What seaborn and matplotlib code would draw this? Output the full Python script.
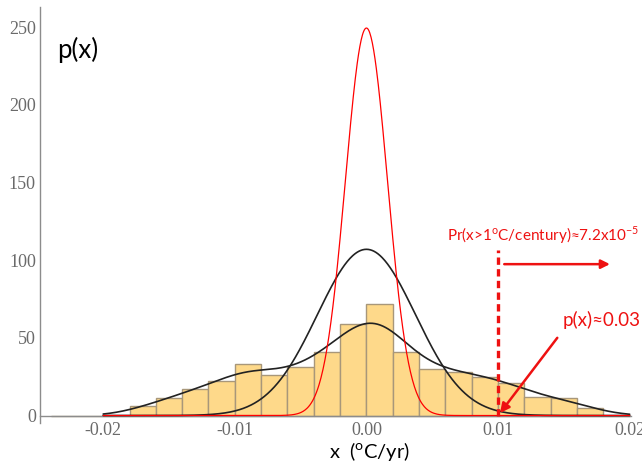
import numpy as np
import seaborn as sns
import matplotlib.pyplot as plt
from matplotlib.ticker import MultipleLocator, FormatStrFormatter

# Histogram of trends (oC/yr): bin centres and bar heights
bin_centers = [-0.023, -0.021, -0.019, -0.017, -0.015, -0.013, -0.011, -0.009,
               -0.007, -0.005, -0.003, -0.001, 0.001, 0.003, 0.005, 0.007,
               0.009, 0.011, 0.013, 0.015, 0.017, 0.019]
counts = [0, 0, 0, 6, 11, 17, 22, 33, 26, 31, 41, 59, 72, 41, 30, 28,
          25, 21, 12, 11, 5, 0]
bin_width = 0.002

# Fitted normal curves (mean 0), widths read from the peaks
red_sigma = 0.0016      # peak ~249
black_sigma = 0.00373   # peak ~107
curve_range = (-0.02, 0.02)

# smooth density of the histogram (black curve with shoulders)
kde_bw = 0.25

threshold = 0.01  # 1 oC / century

sns.set_style("white")
plt.rcParams['font.family'] = ['Liberation Serif', 'DejaVu Serif']
sans = ['Lato', 'DejaVu Sans']
red = '#EE1111'

fig = plt.figure(figsize=(6.42, 4.65), dpi=100)
ax = fig.add_axes([40 / 642, 41.7 / 465, 591 / 642, 416.5 / 465])

edges = [c - bin_width / 2 for c in bin_centers] + [bin_centers[-1] + bin_width / 2]
sns.histplot(x=bin_centers, weights=counts, bins=edges, stat='count',
             color='#FED98A', edgecolor='#A8977A', linewidth=1.0, alpha=1,
             ax=ax, zorder=1)

xs = np.linspace(curve_range[0], curve_range[1], 801)
def normal_pdf(x, s):
    return np.exp(-0.5 * (x / s) ** 2) / (s * np.sqrt(2 * np.pi))

sns.lineplot(x=xs, y=normal_pdf(xs, black_sigma), color='#222222', lw=1.2, ax=ax, zorder=3)
sns.kdeplot(x=bin_centers, weights=counts, bw_method=kde_bw, cut=10, clip=curve_range,
            gridsize=400, color='#222222', lw=1.2, ax=ax, zorder=3)
sns.lineplot(x=xs, y=normal_pdf(xs, red_sigma), color='#FF0000', lw=0.9, ax=ax, zorder=4)

# annotations
ax.vlines(threshold, 0, 106.5, colors=red, linestyles=(0, (2.2, 1.3)), lw=2.4, zorder=5)
ax.annotate('', xy=(0.0185, 97.4), xytext=(0.01047, 97.4),
            arrowprops=dict(arrowstyle='-|>', color=red, lw=1.8, mutation_scale=13,
                            shrinkA=0, shrinkB=0))
ax.annotate('', xy=(0.01015, 1.6), xytext=(0.0145, 50),
            arrowprops=dict(arrowstyle='-|>', color=red, lw=1.8, mutation_scale=14,
                            shrinkA=0, shrinkB=0), zorder=6)
ax.text(0.0061, 116, r'Pr(x>1$^{\mathregular{o}}$C/century)≈7.2x10$^{\mathregular{-5}}$',
        color=red, fontsize=11.0, family=sans, ha='left', va='center')
ax.text(0.01488, 61.5, 'p(x)≈0.03', color=red, fontsize=13.5, family=sans,
        ha='left', va='center')
ax.text(-0.02353, 235, 'p(x)', color='black', fontsize=18.5, family=sans,
        ha='left', va='center')

ax.set_xlim(-0.0248, 0.0201)
ax.set_ylim(-5, 263)
ax.set_ylabel('')
ax.set_xlabel(r'x  ($^{\mathregular{o}}$C/yr)', fontsize=14.5, family=sans,
              color='black', x=0.557, labelpad=0.5)

for side in ['top', 'right']:
    ax.spines[side].set_visible(False)
ax.spines['bottom'].set_position(('data', 0))
for side in ['left', 'bottom']:
    ax.spines[side].set_color('#8C8C8C')
    ax.spines[side].set_linewidth(1.0)

ax.xaxis.set_major_locator(MultipleLocator(0.01))
ax.xaxis.set_minor_locator(MultipleLocator(0.002))
ax.xaxis.set_major_formatter(FormatStrFormatter('%.2f'))
ax.yaxis.set_major_locator(MultipleLocator(50))
ax.yaxis.set_minor_locator(MultipleLocator(10))
ax.tick_params(which='both', direction='in', color='#8C8C8C', width=0.8,
               labelsize=13, labelcolor='#6A6A6A')
ax.tick_params(which='major', length=4)
ax.tick_params(which='minor', length=2.3)
ax.tick_params(axis='x', pad=5)
ax.tick_params(axis='y', pad=3)

plt.savefig('out.png', dpi=100)
